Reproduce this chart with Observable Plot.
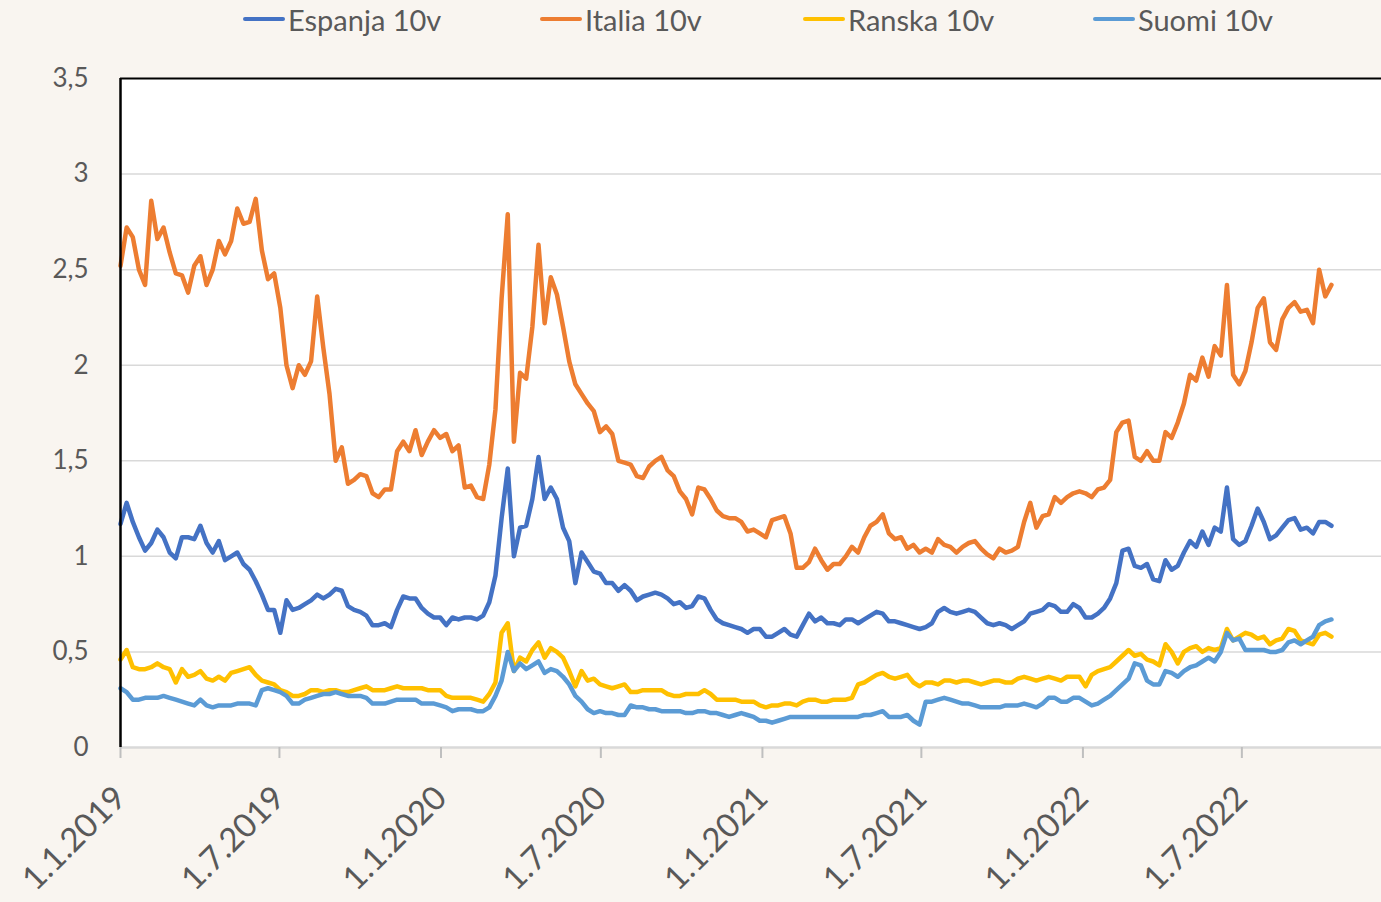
<!DOCTYPE html>
<html>
<head>
<meta charset="utf-8">
<script src="https://cdn.jsdelivr.net/npm/d3@7"></script>
<script src="https://cdn.jsdelivr.net/npm/@observablehq/plot@0.6"></script>
<style>
  html, body { margin: 0; padding: 0; background: #f9f5f0; overflow: hidden; }
  #legend { position: relative; height: 45px; width: 1381px; font-family: Lato, sans-serif; font-size: 29px; color: #595959; }
  .item { position: absolute; top: -3px; height: 45px; display: flex; align-items: center; white-space: nowrap; }
  .sw { width: 42px; height: 4px; border-radius: 2px; margin-right: 3px; margin-top: -2px; }
  #chart svg { display: block; }
</style>
</head>
<body>
<div id="legend"></div>
<div id="chart"></div>
<script>
const seriesNames = ["Espanja 10v", "Italia 10v", "Ranska 10v", "Suomi 10v"];
const seriesColors = ["#4472c4", "#ed7d31", "#ffc000", "#5b9bd5"];
const legendLeft = [243, 540, 803, 1093];

const xTicks = ["2019-01-01","2019-07-01","2020-01-01","2020-07-01","2021-01-01","2021-07-01","2022-01-01","2022-07-01"];
const yTicks = [0, 0.5, 1, 1.5, 2, 2.5, 3, 3.5];
const yTickLabels = ["0", "0,5", "1", "1,5", "2", "2,5", "3", "3,5"];

const dates = [
"2019-01-01","2019-01-08","2019-01-15","2019-01-22","2019-01-29","2019-02-05","2019-02-12","2019-02-19","2019-02-26","2019-03-05","2019-03-12","2019-03-19","2019-03-26",
"2019-04-02","2019-04-09","2019-04-16","2019-04-23","2019-04-30","2019-05-07","2019-05-14","2019-05-21","2019-05-28","2019-06-04","2019-06-11","2019-06-18","2019-06-25",
"2019-07-02","2019-07-09","2019-07-16","2019-07-23","2019-07-30","2019-08-06","2019-08-13","2019-08-20","2019-08-27","2019-09-03","2019-09-10","2019-09-17","2019-09-24",
"2019-10-01","2019-10-08","2019-10-15","2019-10-22","2019-10-29","2019-11-05","2019-11-12","2019-11-19","2019-11-26","2019-12-03","2019-12-10","2019-12-17","2019-12-24","2019-12-31",
"2020-01-07","2020-01-14","2020-01-21","2020-01-28","2020-02-04","2020-02-11","2020-02-18","2020-02-25","2020-03-03","2020-03-10","2020-03-17","2020-03-24","2020-03-31",
"2020-04-07","2020-04-14","2020-04-21","2020-04-28","2020-05-05","2020-05-12","2020-05-19","2020-05-26","2020-06-02","2020-06-09","2020-06-16","2020-06-23","2020-06-30",
"2020-07-07","2020-07-14","2020-07-21","2020-07-28","2020-08-04","2020-08-11","2020-08-18","2020-08-25","2020-09-01","2020-09-08","2020-09-15","2020-09-22","2020-09-29",
"2020-10-06","2020-10-13","2020-10-20","2020-10-27","2020-11-03","2020-11-10","2020-11-17","2020-11-24","2020-12-01","2020-12-08","2020-12-15","2020-12-22","2020-12-29",
"2021-01-05","2021-01-12","2021-01-19","2021-01-26","2021-02-02","2021-02-09","2021-02-16","2021-02-23","2021-03-02","2021-03-09","2021-03-16","2021-03-23","2021-03-30",
"2021-04-06","2021-04-13","2021-04-20","2021-04-27","2021-05-04","2021-05-11","2021-05-18","2021-05-25","2021-06-01","2021-06-08","2021-06-15","2021-06-22","2021-06-29",
"2021-07-06","2021-07-13","2021-07-20","2021-07-27","2021-08-03","2021-08-10","2021-08-17","2021-08-24","2021-08-31","2021-09-07","2021-09-14","2021-09-21","2021-09-28",
"2021-10-05","2021-10-12","2021-10-19","2021-10-26","2021-11-02","2021-11-09","2021-11-16","2021-11-23","2021-11-30","2021-12-07","2021-12-14","2021-12-21","2021-12-28",
"2022-01-04","2022-01-11","2022-01-18","2022-01-25","2022-02-01","2022-02-08","2022-02-15","2022-02-22","2022-03-01","2022-03-08","2022-03-15","2022-03-22","2022-03-29",
"2022-04-05","2022-04-12","2022-04-19","2022-04-26","2022-05-03","2022-05-10","2022-05-17","2022-05-24","2022-05-31","2022-06-07","2022-06-14","2022-06-21","2022-06-28",
"2022-07-05","2022-07-12","2022-07-19","2022-07-26","2022-08-02","2022-08-09","2022-08-16","2022-08-23","2022-08-30","2022-09-06","2022-09-13","2022-09-20","2022-09-27",
"2022-10-04","2022-10-11"
];

const espanja = [
1.17,1.28,1.18,1.10,1.03,1.07,1.14,1.10,1.02,0.99,1.10,1.10,1.09,
1.16,1.07,1.02,1.08,0.98,1.00,1.02,0.96,0.93,0.87,0.80,0.72,0.72,
0.60,0.77,0.72,0.73,0.75,0.77,0.80,0.78,0.80,0.83,0.82,0.74,0.72,
0.71,0.69,0.64,0.64,0.65,0.63,0.72,0.79,0.78,0.78,0.73,0.70,0.68,0.68,
0.64,0.68,0.67,0.68,0.68,0.67,0.69,0.76,0.90,1.20,1.46,1.00,1.15,
1.16,1.30,1.52,1.30,1.36,1.30,1.15,1.08,0.86,1.02,0.97,0.92,0.91,
0.86,0.86,0.82,0.85,0.82,0.77,0.79,0.80,0.81,0.80,0.78,0.75,0.76,
0.73,0.74,0.79,0.78,0.72,0.67,0.65,0.64,0.63,0.62,0.60,0.62,0.62,
0.58,0.58,0.60,0.62,0.59,0.58,0.64,0.70,0.66,0.68,0.65,0.65,0.64,
0.67,0.67,0.65,0.67,0.69,0.71,0.70,0.66,0.66,0.65,0.64,0.63,0.62,
0.63,0.65,0.71,0.73,0.71,0.70,0.71,0.72,0.71,0.68,0.65,0.64,0.65,
0.64,0.62,0.64,0.66,0.70,0.71,0.72,0.75,0.74,0.71,0.71,0.75,0.73,
0.68,0.68,0.70,0.73,0.78,0.86,1.03,1.04,0.95,0.94,0.96,0.88,0.87,
0.98,0.93,0.95,1.02,1.08,1.05,1.13,1.06,1.15,1.13,1.36,1.09,1.06,
1.08,1.16,1.25,1.18,1.09,1.11,1.15,1.19,1.20,1.14,1.15,1.12,1.18,
1.18,1.16
];

const italia = [
2.52,2.72,2.67,2.50,2.42,2.86,2.66,2.72,2.59,2.48,2.47,2.38,2.52,
2.57,2.42,2.50,2.65,2.58,2.65,2.82,2.74,2.75,2.87,2.60,2.45,2.48,
2.30,2.00,1.88,2.00,1.95,2.02,2.36,2.09,1.85,1.50,1.57,1.38,1.40,
1.43,1.42,1.33,1.31,1.35,1.35,1.55,1.60,1.55,1.66,1.53,1.60,1.66,1.62,
1.64,1.55,1.58,1.36,1.37,1.31,1.30,1.48,1.77,2.35,2.79,1.60,1.96,
1.93,2.20,2.63,2.22,2.46,2.37,2.20,2.02,1.90,1.85,1.80,1.76,1.65,
1.68,1.64,1.50,1.49,1.48,1.42,1.41,1.47,1.50,1.52,1.45,1.42,1.34,
1.30,1.22,1.36,1.35,1.30,1.24,1.21,1.20,1.20,1.18,1.13,1.14,1.12,
1.10,1.19,1.20,1.21,1.12,0.94,0.94,0.97,1.04,0.98,0.93,0.96,0.96,
1.00,1.05,1.02,1.10,1.16,1.18,1.22,1.12,1.09,1.10,1.04,1.06,1.02,
1.04,1.02,1.09,1.06,1.05,1.02,1.05,1.07,1.08,1.04,1.01,0.99,1.04,
1.02,1.03,1.05,1.18,1.28,1.15,1.21,1.22,1.31,1.28,1.31,1.33,1.34,
1.33,1.31,1.35,1.36,1.40,1.65,1.70,1.71,1.52,1.50,1.55,1.50,1.50,
1.65,1.62,1.70,1.80,1.95,1.92,2.04,1.94,2.10,2.05,2.42,1.95,1.90,
1.97,2.12,2.30,2.35,2.12,2.08,2.24,2.30,2.33,2.28,2.29,2.22,2.50,
2.36,2.42
];

const ranska = [
0.46,0.51,0.42,0.41,0.41,0.42,0.44,0.42,0.41,0.34,0.41,0.37,0.38,
0.40,0.36,0.35,0.37,0.35,0.39,0.40,0.41,0.42,0.38,0.35,0.34,0.33,
0.30,0.29,0.27,0.27,0.28,0.30,0.30,0.29,0.30,0.30,0.29,0.29,0.30,
0.31,0.32,0.30,0.30,0.30,0.31,0.32,0.31,0.31,0.31,0.31,0.30,0.30,0.30,
0.27,0.26,0.26,0.26,0.26,0.25,0.24,0.28,0.34,0.60,0.65,0.40,0.47,
0.45,0.51,0.55,0.47,0.52,0.50,0.47,0.40,0.32,0.40,0.35,0.36,0.33,
0.32,0.31,0.32,0.33,0.29,0.29,0.30,0.30,0.30,0.30,0.28,0.27,0.27,
0.28,0.28,0.28,0.30,0.28,0.25,0.25,0.25,0.25,0.24,0.24,0.24,0.22,
0.21,0.22,0.22,0.23,0.23,0.22,0.24,0.25,0.25,0.24,0.24,0.25,0.25,
0.25,0.26,0.33,0.34,0.36,0.38,0.39,0.37,0.36,0.37,0.38,0.34,0.32,
0.34,0.34,0.33,0.35,0.35,0.34,0.35,0.35,0.34,0.33,0.34,0.35,0.35,
0.34,0.34,0.36,0.37,0.36,0.35,0.36,0.37,0.36,0.35,0.37,0.37,0.37,
0.32,0.38,0.40,0.41,0.42,0.45,0.48,0.51,0.48,0.49,0.46,0.45,0.43,
0.54,0.50,0.44,0.50,0.52,0.53,0.50,0.52,0.51,0.52,0.62,0.56,0.58,
0.60,0.59,0.57,0.58,0.54,0.56,0.57,0.62,0.61,0.56,0.55,0.54,0.59,
0.60,0.58
];

const suomi = [
0.31,0.29,0.25,0.25,0.26,0.26,0.26,0.27,0.26,0.25,0.24,0.23,0.22,
0.25,0.22,0.21,0.22,0.22,0.22,0.23,0.23,0.23,0.22,0.30,0.31,0.30,
0.29,0.27,0.23,0.23,0.25,0.26,0.27,0.28,0.28,0.29,0.28,0.27,0.27,
0.27,0.26,0.23,0.23,0.23,0.24,0.25,0.25,0.25,0.25,0.23,0.23,0.23,0.22,
0.21,0.19,0.20,0.20,0.20,0.19,0.19,0.21,0.27,0.35,0.50,0.40,0.44,
0.41,0.43,0.45,0.39,0.41,0.40,0.37,0.33,0.27,0.24,0.20,0.18,0.19,
0.18,0.18,0.17,0.17,0.22,0.21,0.21,0.20,0.20,0.19,0.19,0.19,0.19,
0.18,0.18,0.19,0.19,0.18,0.18,0.17,0.16,0.17,0.18,0.17,0.16,0.14,
0.14,0.13,0.14,0.15,0.16,0.16,0.16,0.16,0.16,0.16,0.16,0.16,0.16,
0.16,0.16,0.16,0.17,0.17,0.18,0.19,0.16,0.16,0.16,0.17,0.14,0.12,
0.24,0.24,0.25,0.26,0.25,0.24,0.23,0.23,0.22,0.21,0.21,0.21,0.21,
0.22,0.22,0.22,0.23,0.22,0.21,0.23,0.26,0.26,0.24,0.24,0.26,0.26,
0.24,0.22,0.23,0.25,0.27,0.30,0.33,0.36,0.44,0.43,0.35,0.33,0.33,
0.40,0.39,0.37,0.40,0.42,0.43,0.45,0.47,0.45,0.50,0.60,0.56,0.57,
0.51,0.51,0.51,0.51,0.50,0.50,0.51,0.55,0.56,0.54,0.56,0.58,0.64,
0.66,0.67
];

const seriesValues = [espanja, italia, ranska, suomi];
const data = seriesNames.flatMap((name, i) =>
  dates.map((d, j) => ({date: new Date(d), value: seriesValues[i][j], series: name}))
);

// Legend (HTML, above the SVG)
const legend = document.getElementById("legend");
seriesNames.forEach((name, i) => {
  const item = document.createElement("div");
  item.className = "item";
  item.style.left = legendLeft[i] + "px";
  const sw = document.createElement("span");
  sw.className = "sw";
  sw.style.background = seriesColors[i];
  const label = document.createElement("span");
  label.textContent = name;
  item.append(sw, label);
  legend.append(item);
});

const xStart = new Date("2019-01-01");
const xEnd = new Date("2022-12-07");
const fmtDate = d => `${d.getUTCDate()}.${d.getUTCMonth() + 1}.${d.getUTCFullYear()}`;

const chart = Plot.plot({
  width: 1381,
  height: 857,
  marginLeft: 120,
  marginRight: 0,
  marginTop: 33,
  marginBottom: 155,
  style: {background: "transparent", fontFamily: "Lato, sans-serif", color: "#595959", overflow: "visible"},
  x: {type: "utc", domain: [xStart, xEnd], label: null},
  y: {domain: [0, 3.5], label: null},
  color: {domain: seriesNames, range: seriesColors},
  marks: [
    Plot.frame({fill: "white", stroke: "none"}),
    Plot.ruleY(yTicks.filter(v => v > 0 && v < 3.5), {stroke: "#d9d9d9", strokeWidth: 1.5}),
    Plot.ruleY([0], {stroke: "#d9d9d9", strokeWidth: 2.5}),
    Plot.axisY(yTicks, {
      tickSize: 0, tickPadding: 32, fontSize: 26, fill: "#595959", label: null,
      tickFormat: d => yTickLabels[yTicks.indexOf(d)]
    }),
    Plot.axisX(xTicks.map(d => new Date(d)), {
      tickSize: 11, stroke: "#bfbfbf", strokeWidth: 2, tickPadding: 34, label: null,
      tickRotate: -45, fontSize: 33, fill: "#595959", tickFormat: fmtDate
    }),
    Plot.line(data, {
      x: "date", y: "value", z: "series", stroke: "series",
      strokeWidth: 4.5, strokeLinejoin: "round", strokeLinecap: "round"
    }),
    Plot.ruleY([3.5], {stroke: "#000", strokeWidth: 2}),
    Plot.ruleX([xStart], {stroke: "#000", strokeWidth: 2.5})
  ]
});
document.getElementById("chart").append(chart);
</script>
</body>
</html>
